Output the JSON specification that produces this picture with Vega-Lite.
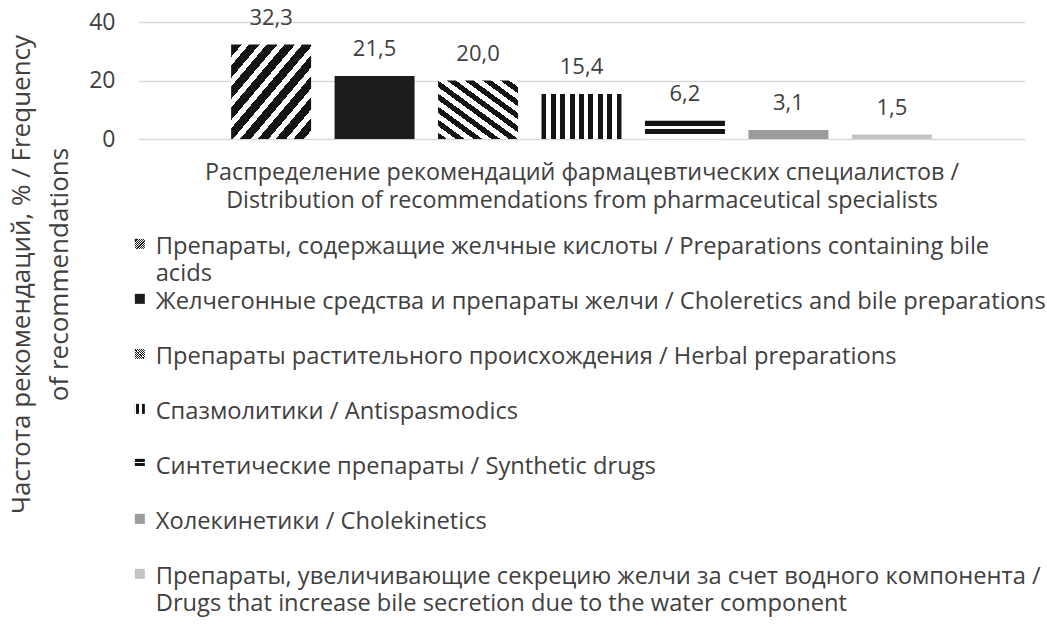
{
  "$schema": "https://vega.github.io/schema/vega-lite/v6.json",
  "autosize": "none",
  "width": 887,
  "height": 117,
  "padding": {"left": 138, "top": 22, "right": 22, "bottom": 498},
  "background": "white",
  "params": [
    {"name": "g1", "expr": "{gradient:'linear',x1:0,y1:0,x2:1,y2:1,stops:[{offset:0,color:'#141414'},{offset:0.0667,color:'#141414'},{offset:0.0667,color:'#ffffff'},{offset:0.1111,color:'#ffffff'},{offset:0.1111,color:'#141414'},{offset:0.1778,color:'#141414'},{offset:0.1778,color:'#ffffff'},{offset:0.2222,color:'#ffffff'},{offset:0.2222,color:'#141414'},{offset:0.2889,color:'#141414'},{offset:0.2889,color:'#ffffff'},{offset:0.3333,color:'#ffffff'},{offset:0.3333,color:'#141414'},{offset:0.4,color:'#141414'},{offset:0.4,color:'#ffffff'},{offset:0.4444,color:'#ffffff'},{offset:0.4444,color:'#141414'},{offset:0.5111,color:'#141414'},{offset:0.5111,color:'#ffffff'},{offset:0.5556,color:'#ffffff'},{offset:0.5556,color:'#141414'},{offset:0.6222,color:'#141414'},{offset:0.6222,color:'#ffffff'},{offset:0.6667,color:'#ffffff'},{offset:0.6667,color:'#141414'},{offset:0.7333,color:'#141414'},{offset:0.7333,color:'#ffffff'},{offset:0.7778,color:'#ffffff'},{offset:0.7778,color:'#141414'},{offset:0.8444,color:'#141414'},{offset:0.8444,color:'#ffffff'},{offset:0.8889,color:'#ffffff'},{offset:0.8889,color:'#141414'},{offset:0.9556,color:'#141414'},{offset:0.9556,color:'#ffffff'},{offset:1,color:'#ffffff'}]}"},
    {"name": "g3", "expr": "{gradient:'linear',x1:0,y1:1,x2:1,y2:0,stops:[{offset:0,color:'#141414'},{offset:0.0556,color:'#141414'},{offset:0.0556,color:'#ffffff'},{offset:0.1111,color:'#ffffff'},{offset:0.1111,color:'#141414'},{offset:0.1667,color:'#141414'},{offset:0.1667,color:'#ffffff'},{offset:0.2222,color:'#ffffff'},{offset:0.2222,color:'#141414'},{offset:0.2778,color:'#141414'},{offset:0.2778,color:'#ffffff'},{offset:0.3333,color:'#ffffff'},{offset:0.3333,color:'#141414'},{offset:0.3889,color:'#141414'},{offset:0.3889,color:'#ffffff'},{offset:0.4444,color:'#ffffff'},{offset:0.4444,color:'#141414'},{offset:0.5,color:'#141414'},{offset:0.5,color:'#ffffff'},{offset:0.5556,color:'#ffffff'},{offset:0.5556,color:'#141414'},{offset:0.6111,color:'#141414'},{offset:0.6111,color:'#ffffff'},{offset:0.6667,color:'#ffffff'},{offset:0.6667,color:'#141414'},{offset:0.7222,color:'#141414'},{offset:0.7222,color:'#ffffff'},{offset:0.7778,color:'#ffffff'},{offset:0.7778,color:'#141414'},{offset:0.8333,color:'#141414'},{offset:0.8333,color:'#ffffff'},{offset:0.8889,color:'#ffffff'},{offset:0.8889,color:'#141414'},{offset:0.9444,color:'#141414'},{offset:0.9444,color:'#ffffff'},{offset:1,color:'#ffffff'}]}"},
    {"name": "g4", "expr": "{gradient:'linear',x1:0,y1:0,x2:1,y2:0,stops:[{offset:0,color:'#141414'},{offset:0.06,color:'#141414'},{offset:0.06,color:'#ffffff'},{offset:0.1175,color:'#ffffff'},{offset:0.1175,color:'#141414'},{offset:0.1775,color:'#141414'},{offset:0.1775,color:'#ffffff'},{offset:0.235,color:'#ffffff'},{offset:0.235,color:'#141414'},{offset:0.295,color:'#141414'},{offset:0.295,color:'#ffffff'},{offset:0.3525,color:'#ffffff'},{offset:0.3525,color:'#141414'},{offset:0.4125,color:'#141414'},{offset:0.4125,color:'#ffffff'},{offset:0.47,color:'#ffffff'},{offset:0.47,color:'#141414'},{offset:0.53,color:'#141414'},{offset:0.53,color:'#ffffff'},{offset:0.5875,color:'#ffffff'},{offset:0.5875,color:'#141414'},{offset:0.6475,color:'#141414'},{offset:0.6475,color:'#ffffff'},{offset:0.705,color:'#ffffff'},{offset:0.705,color:'#141414'},{offset:0.765,color:'#141414'},{offset:0.765,color:'#ffffff'},{offset:0.8225,color:'#ffffff'},{offset:0.8225,color:'#141414'},{offset:0.8825,color:'#141414'},{offset:0.8825,color:'#ffffff'},{offset:0.94,color:'#ffffff'},{offset:0.94,color:'#141414'},{offset:1,color:'#141414'}]}"},
    {"name": "g5", "expr": "{gradient:'linear',x1:0,y1:0,x2:0,y2:1,stops:[{offset:0,color:'#141414'},{offset:0.28,color:'#141414'},{offset:0.28,color:'#ffffff'},{offset:0.44,color:'#ffffff'},{offset:0.44,color:'#141414'},{offset:0.72,color:'#141414'},{offset:0.72,color:'#ffffff'},{offset:1,color:'#ffffff'}]}"}
  ],
  "config": {
    "font": "Open Sans",
    "view": {"stroke": null},
    "style": {"guide-label": {"lineHeight": 27, "dy": -9}},
    "locale": {"number": {"decimal": ",", "thousands": " ", "grouping": [3], "currency": ["", ""]}}
  },
  "data": {
    "values": [
      {"category": "Препараты, содержащие желчные кислоты / Preparations containing bile|acids", "value": 32.3},
      {"category": "Желчегонные средства и препараты желчи / Choleretics and bile preparations", "value": 21.5},
      {"category": "Препараты растительного происхождения / Herbal preparations", "value": 20.0},
      {"category": "Спазмолитики / Antispasmodics", "value": 15.4},
      {"category": "Синтетические препараты / Synthetic drugs", "value": 6.2},
      {"category": "Холекинетики / Cholekinetics", "value": 3.1},
      {"category": "Препараты, увеличивающие секрецию желчи за счет водного компонента /|Drugs that increase bile secretion due to the water component", "value": 1.5}
    ]
  },
  "encoding": {
    "x": {
      "field": "category",
      "type": "nominal",
      "sort": null,
      "scale": {"paddingInner": 0.227, "paddingOuter": 0.9},
      "axis": {
        "labels": false,
        "ticks": false,
        "domain": false,
        "title": ["Распределение рекомендаций фармацевтических специалистов /", "Distribution of recommendations from pharmaceutical specialists"],
        "titleFont": "Open Sans",
        "titleFontSize": 23.3,
        "titleFontWeight": "normal",
        "titleColor": "#404040",
        "titleLineHeight": 28,
        "titleBaseline": "top",
        "titleAnchor": "middle",
        "titleY": 22
      }
    },
    "y": {
      "field": "value",
      "type": "quantitative",
      "scale": {"domain": [0, 40]},
      "axis": {
        "values": [0, 20, 40],
        "ticks": false,
        "domain": false,
        "grid": true,
        "gridColor": "#d9d9d9",
        "gridWidth": 1.5,
        "labelFont": "Open Sans",
        "labelFontSize": 23,
        "labelColor": "#404040",
        "labelPadding": 23,
        "labelOffset": 9,
        "title": ["Частота рекомендаций, % / Frequency", "of recommendations"],
        "titleFont": "Open Sans",
        "titleFontSize": 26,
        "titleFontWeight": "normal",
        "titleColor": "#404040",
        "titleLineHeight": 38,
        "titleAngle": -90,
        "titleBaseline": "top",
        "titleAlign": "center",
        "titleX": -130,
        "titleY": 252
      }
    }
  },
  "layer": [
    {
      "mark": {"type": "bar", "stroke": null},
      "encoding": {
        "color": {
          "field": "category",
          "type": "nominal",
          "sort": null,
          "scale": {"range": [{"expr": "g1"}, "#1c1c1c", {"expr": "g3"}, {"expr": "g4"}, {"expr": "g5"}, "#9c9c9c", "#c4c4c4"]},
          "legend": {
            "orient": "none",
            "legendX": -10,
            "legendY": 210,
            "direction": "vertical",
            "columns": 1,
            "title": null,
            "padding": 0,
            "symbolType": "square",
            "symbolSize": 100,
            "symbolStrokeWidth": 0,
            "labelFont": "Open Sans",
            "labelFontSize": 23.7,
            "labelColor": "#404040",
            "labelLimit": 3000,
            "labelOffset": 4,
            "labelBaseline": "top",
            "rowPadding": 1,
            "labelExpr": "indexof(datum.label, '|') >= 0 ? split(datum.label, '|') : [datum.label, ' ']"
          }
        }
      }
    },
    {
      "mark": {"type": "text", "baseline": "alphabetic", "dy": -20, "fontSize": 22, "font": "Open Sans", "color": "#404040"},
      "encoding": {
        "text": {"field": "value", "type": "quantitative", "format": ".1f"}
      }
    }
  ]
}
